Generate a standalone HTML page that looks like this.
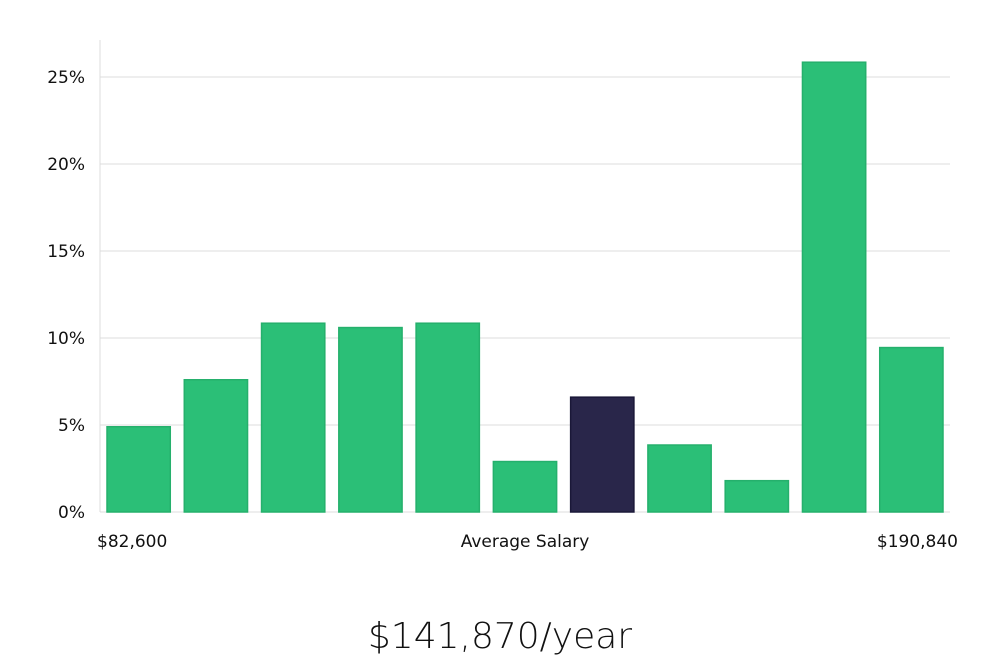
<!DOCTYPE html>
<html><head><meta charset="utf-8"><style>
body{margin:0;background:#fff;width:1000px;height:660px;overflow:hidden;font-family:"DejaVu Sans","Liberation Sans",sans-serif;}
svg text{font-family:"DejaVu Sans","Liberation Sans",sans-serif;}
</style></head><body>
<svg id="chart" width="1000" height="660" xmlns="http://www.w3.org/2000/svg"></svg>
<script>
const categories=["b1","b2","b3","b4","b5","b6","b7","b8","b9","b10","b11"];
const values=[4.9,7.6,10.85,10.6,10.85,2.9,6.6,3.85,1.8,25.85,9.45];
const highlight=[false,false,false,false,false,false,true,false,false,false,false];
const yTicks=[0,5,10,15,20,25];
const yTickLabels=["0%","5%","10%","15%","20%","25%"];
const ns="http://www.w3.org/2000/svg";
const svg=document.getElementById('chart');
const L=100,R=950,B=512,T=40;
const y=v=>B-v*(435/25);
const band=(R-L)/categories.length;
const x=i=>L+i*band;
function mk(t,a){const e=document.createElementNS(ns,t);for(const k in a)e.setAttribute(k,a[k]);svg.appendChild(e);return e;}
yTicks.forEach((t,i)=>{
  const g=mk('line',{x1:L,x2:R,y1:y(t),y2:y(t),stroke:'#dcdcdc','stroke-width':1});
  
  
  const lb=mk('text',{x:85,y:y(t)+6,'text-anchor':'end','font-size':17,fill:'#111'});
  lb.textContent=yTickLabels[i];
  
  
});
const ax=mk('line',{x1:L,x2:L,y1:T,y2:B,stroke:'#dcdcdc','stroke-width':1});


values.forEach((v,i)=>{
  const r=mk('rect',{x:x(i)+7,y:y(v),width:band-14,height:B-y(v),fill:highlight[i]?'#29264a':'#2bbf77',stroke:highlight[i]?'#1a1838':'#25b06c','stroke-width':1.5});
  
  
});
const labels=[["$82,600",97,'start'],["Average Salary",525,'middle'],["$190,840",958,'end']];
labels.forEach(l=>{
  const t=mk('text',{x:l[1],y:547,'text-anchor':l[2],'font-size':17,fill:'#111'});
  t.textContent=l[0];
  
  
});
const s=mk('text',{x:500,y:648,'text-anchor':'middle','font-size':36,fill:'#111','font-weight':300});
s.textContent="$141,870/year";


</script>
</body></html>
